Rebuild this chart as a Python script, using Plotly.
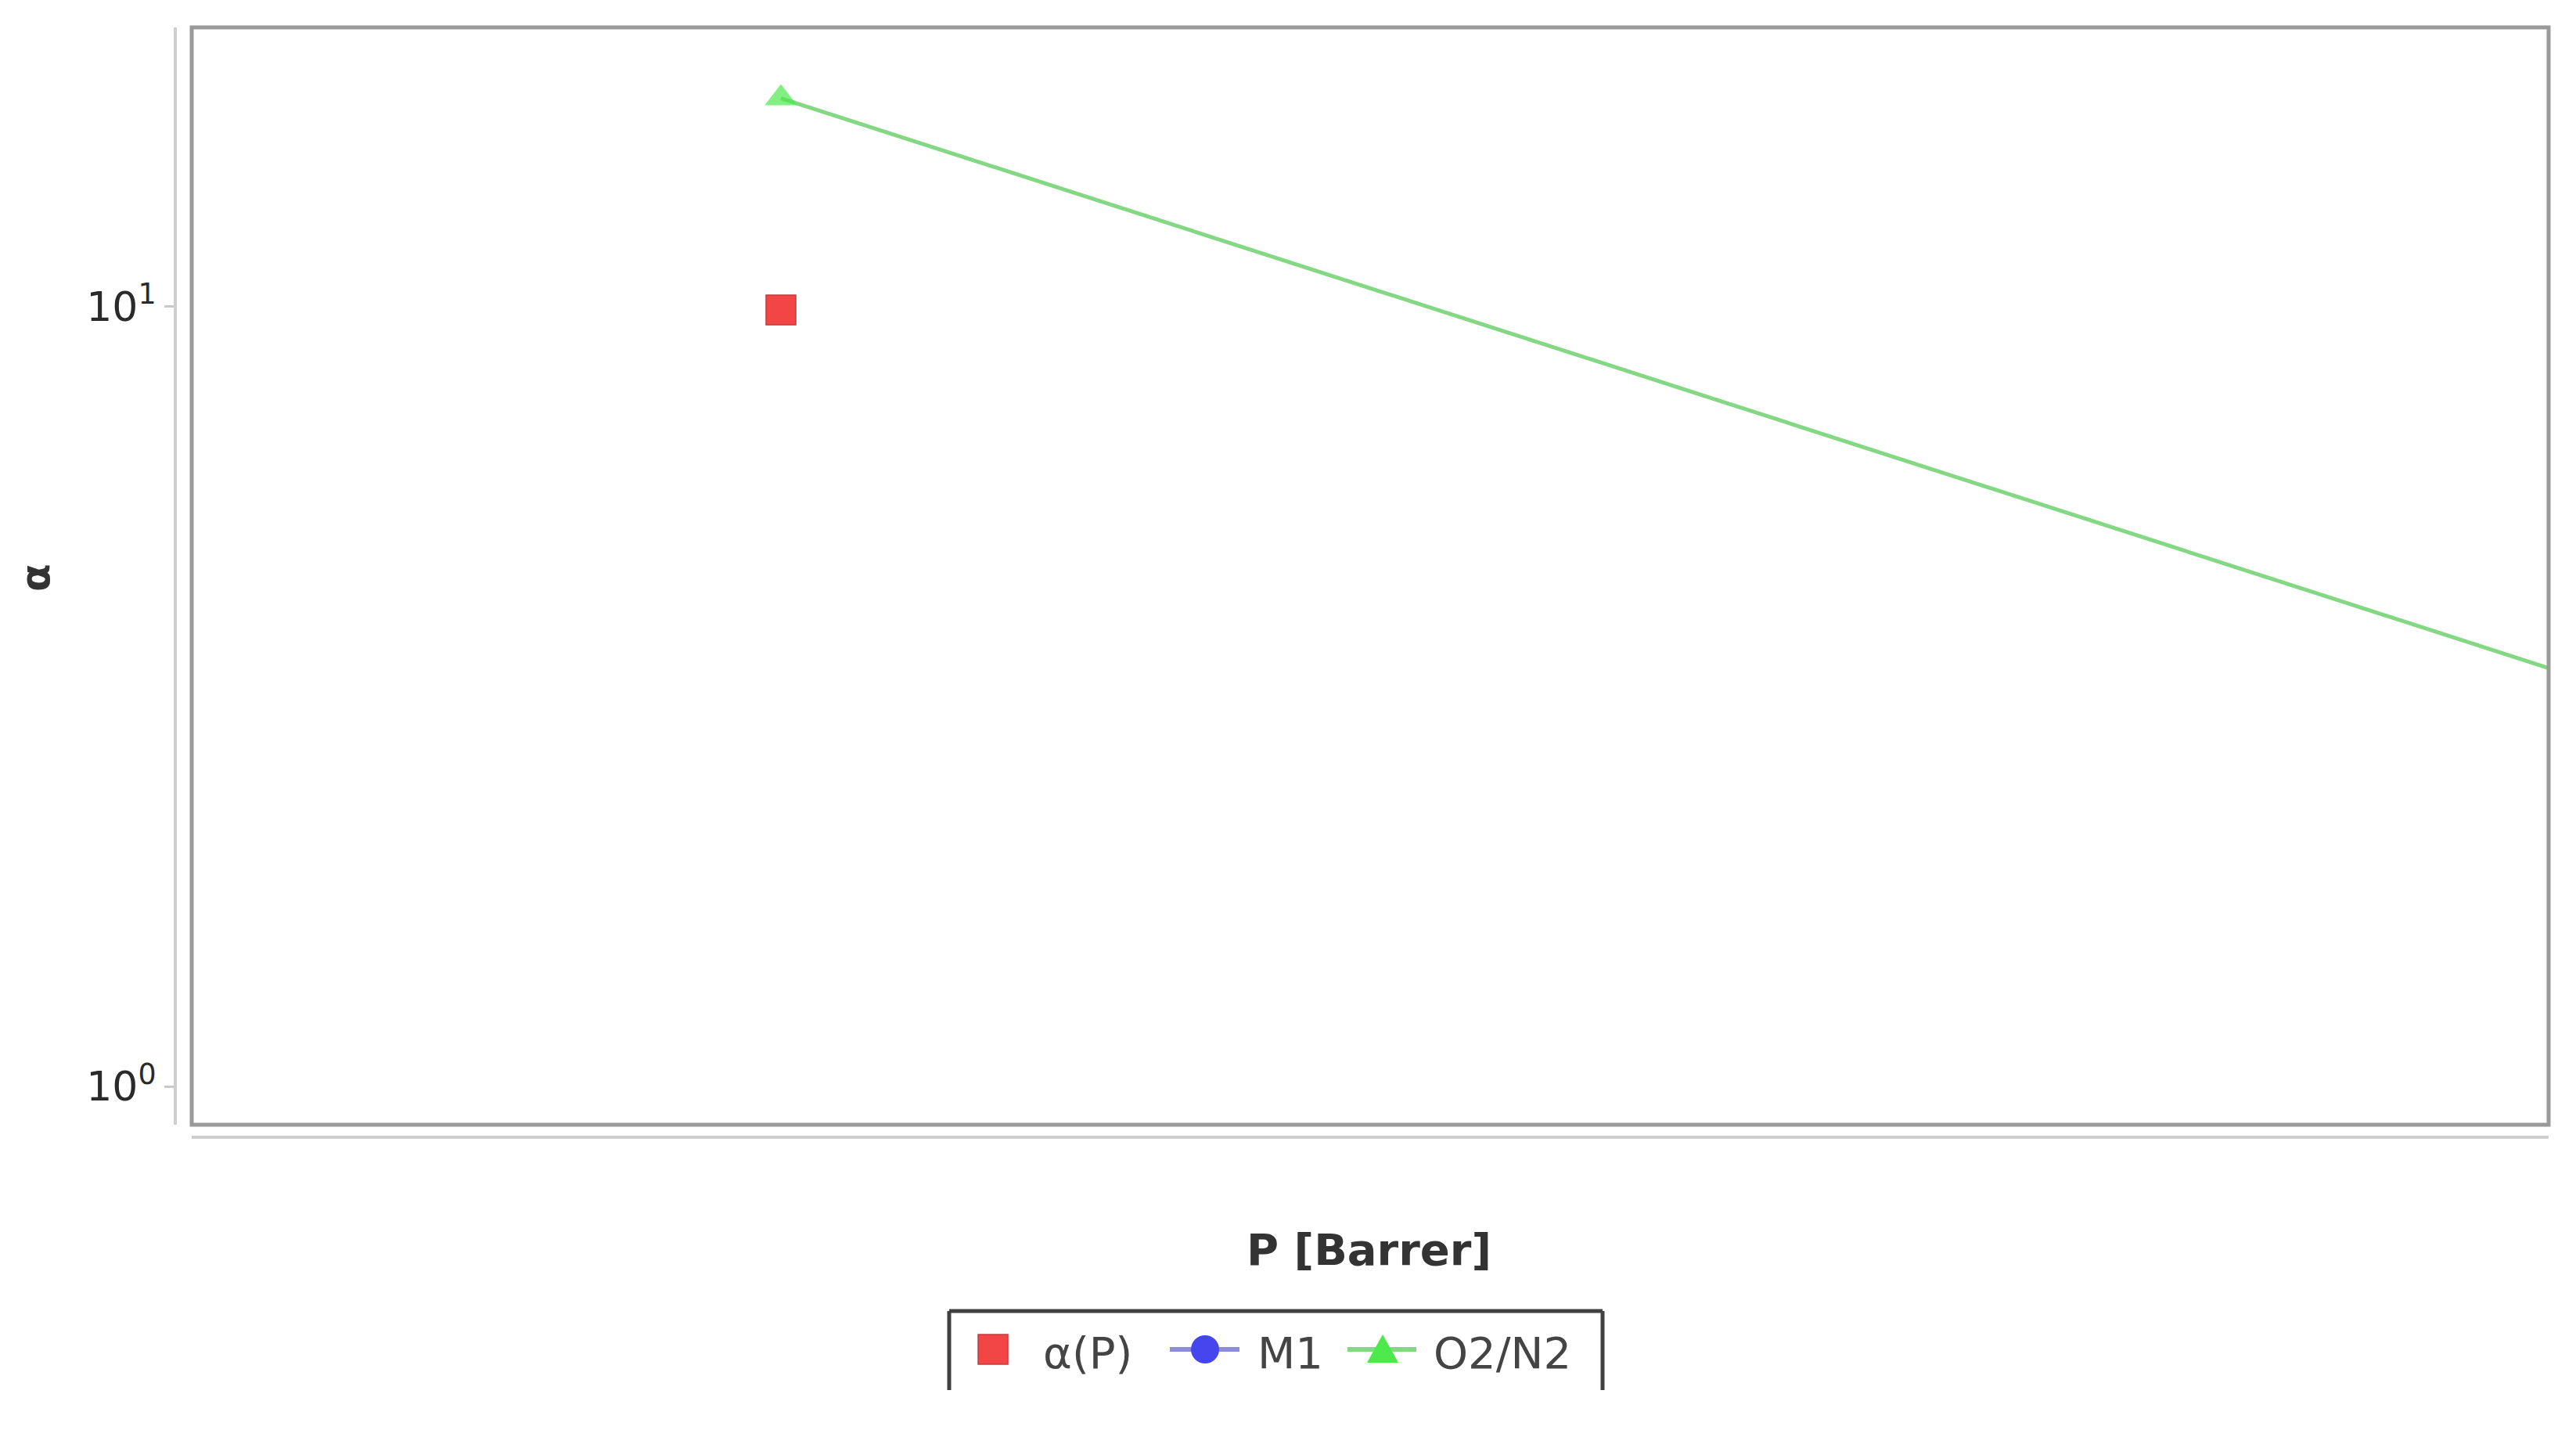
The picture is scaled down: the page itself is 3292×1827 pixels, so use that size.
import plotly.graph_objects as go

# ---- data ----
series_names = ["α(P)", "M1", "O2/N2"]
alpha_p_x = [10]
alpha_p_y = [9.9]
m1_x = [None]
m1_y = [None]
o2n2_x = [10, 10000]
o2n2_y = [18.5, 3.44]
y_tick_vals = [1, 10]
y_tick_text = ["10<sup>0</sup>", "10<sup>1</sup>"]
x_title = "P [Barrer]"
y_title = "α"

# ---- layout geometry (page pixels; the page body adds an 8px margin) ----
OFF = 8
W, H = 3292 - OFF, 1827 - OFF
AX_L, AX_B = 224, 1453          # detached axis lines (page px)
FR_L, FR_R, FR_T, FR_B = 245, 3257, 35, 1437   # plot frame (page px)
ml = AX_L - OFF
mt = FR_T - OFF
mr = 3292 - FR_R
mb = 1827 - AX_B
PW = FR_R - AX_L
PH = AX_B - FR_T


def px_x(px):
    return (px - AX_L) / PW


def px_y(py):
    return (AX_B - py) / PH


RED, RED_EDGE = "#f24646", "#c43c3c"
BLUE, BLUE_LINE = "#4646ee", "#8c8cd8"
GREEN, GREEN_LINE = "#4ce84c", "#84d884"

fig = go.Figure()
fig.add_trace(go.Scatter(
    x=alpha_p_x, y=alpha_p_y, name=series_names[0], mode="markers",
    marker=dict(symbol="square", size=38, color=RED,
                line=dict(color=RED_EDGE, width=1.5)),
))
fig.add_trace(go.Scatter(
    x=m1_x, y=m1_y, name=series_names[1], mode="lines+markers",
    line=dict(color=BLUE_LINE, width=5),
    marker=dict(symbol="circle", size=36, color=BLUE),
))
fig.add_trace(go.Scatter(
    x=o2n2_x, y=o2n2_y, name=series_names[2], mode="lines+markers",
    line=dict(color=GREEN_LINE, width=5),
    marker=dict(symbol="triangle-up", size=[36, 0], color=GREEN,
                line=dict(width=0)),
))

fig.update_layout(
    width=W, height=H,
    margin=dict(l=ml, r=mr, t=mt, b=mb, pad=0),
    paper_bgcolor="white", plot_bgcolor="white",
    font=dict(family="DejaVu Sans", size=52, color="#333333"),
    showlegend=False,
    xaxis=dict(
        type="log", range=[0, 4], showgrid=False, zeroline=False,
        showticklabels=False, ticks="",
        domain=[px_x(FR_L), 1],
        anchor="free", position=0,
        showline=True, linecolor="#cfcfcf", linewidth=4,
    ),
    yaxis=dict(
        type="log", range=[-0.049, 1.358], showgrid=False, zeroline=False,
        domain=[px_y(FR_B), 1],
        anchor="free", position=0,
        tickvals=y_tick_vals, ticktext=y_tick_text,
        ticks="outside", ticklen=12, tickwidth=3, tickcolor="#c8c8c8",
        ticklabelstandoff=0,
        tickfont=dict(family="DejaVu Sans", size=52, color="#2a2a2a"),
        showline=True, linecolor="#cfcfcf", linewidth=4,
    ),
)

shapes = [
    # plot frame
    dict(type="rect", xref="x domain", yref="y domain", x0=0, y0=0, x1=1, y1=1,
         line=dict(color="#9a9a9a", width=5), layer="above"),
]

# ---- legend (box is cut off at the bottom as in the reference) ----
LG_L, LG_R, LG_T, LG_B = 1213, 2048, 1675, 1776
border = dict(color="#404040", width=5)
shapes += [
    dict(type="line", xref="paper", yref="paper", x0=px_x(LG_L), x1=px_x(LG_R),
         y0=px_y(LG_T), y1=px_y(LG_T), line=border),
    dict(type="line", xref="paper", yref="paper", x0=px_x(LG_L), x1=px_x(LG_L),
         y0=px_y(LG_T), y1=px_y(LG_B), line=border),
    dict(type="line", xref="paper", yref="paper", x0=px_x(LG_R), x1=px_x(LG_R),
         y0=px_y(LG_T), y1=px_y(LG_B), line=border),
]
LY = 1724
# α(P) square
shapes.append(dict(type="rect", xref="paper", yref="paper",
                   x0=px_x(1250), x1=px_x(1288), y0=px_y(LY - 19), y1=px_y(LY + 19),
                   fillcolor=RED, line=dict(color=RED_EDGE, width=1.5)))
# M1 line + circle
shapes.append(dict(type="line", xref="paper", yref="paper",
                   x0=px_x(1495), x1=px_x(1584), y0=px_y(LY), y1=px_y(LY),
                   line=dict(color=BLUE_LINE, width=6)))
shapes.append(dict(type="circle", xref="paper", yref="paper",
                   x0=px_x(1540 - 18), x1=px_x(1540 + 18), y0=px_y(LY - 18), y1=px_y(LY + 18),
                   fillcolor=BLUE, line=dict(width=0)))
# O2/N2 line + triangle
shapes.append(dict(type="line", xref="paper", yref="paper",
                   x0=px_x(1722), x1=px_x(1810), y0=px_y(LY), y1=px_y(LY),
                   line=dict(color=GREEN_LINE, width=6)))
tri = "M {:.5f},{:.5f} L {:.5f},{:.5f} L {:.5f},{:.5f} Z".format(
    px_x(1747), px_y(1741), px_x(1787), px_y(1741), px_x(1767), px_y(1705))
shapes.append(dict(type="path", xref="paper", yref="paper", path=tri,
                   fillcolor=GREEN, line=dict(width=0)))
fig.update_layout(shapes=shapes)

legend_font = dict(family="DejaVu Sans", size=56, color="#444444")
for text, left in [(series_names[0], 1331), (series_names[1], 1605), (series_names[2], 1830)]:
    fig.add_annotation(text=text, xref="paper", yref="paper", x=px_x(left), y=px_y(1729),
                       xanchor="left", yanchor="middle", showarrow=False,
                       font=legend_font)

fig.add_annotation(
    text="<b>" + x_title + "</b>", xref="paper", yref="paper",
    x=px_x(1749), y=px_y(1596), xanchor="center", yanchor="middle",
    showarrow=False, font=dict(family="DejaVu Sans", size=56, color="#333333"),
)
fig.add_annotation(
    text="<b>" + y_title + "</b>", xref="paper", yref="paper",
    x=px_x(45), y=px_y(738), xanchor="center", yanchor="middle",
    showarrow=False, textangle=-90,
    font=dict(family="DejaVu Sans", size=52, color="#333333"),
)

fig.write_html("out.html")
